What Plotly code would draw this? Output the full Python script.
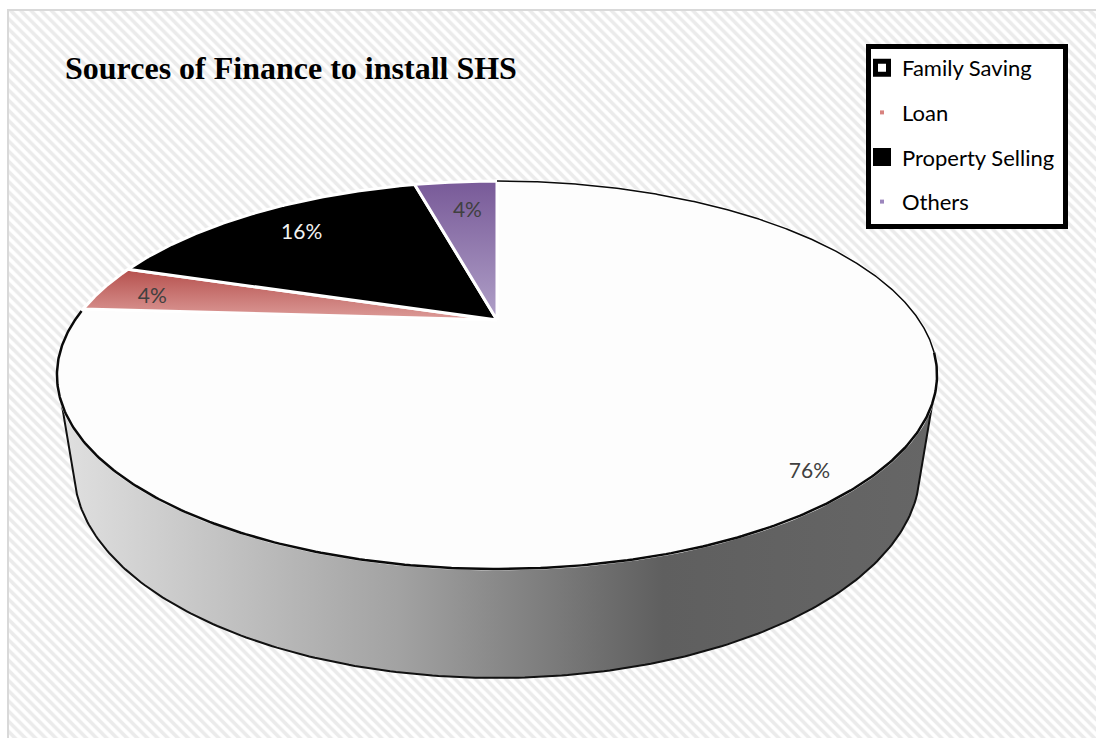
import numpy as np
import plotly.graph_objects as go

title = "Sources of Finance to install SHS"
categories = ["Family Saving", "Loan", "Property Selling", "Others"]
shares = [76, 4, 16, 4]
top_colors = [None, "#b5504d", "#000000", "#785a98"]
bottom_colors = [None, "#dd9c99", "#000000", "#b0a0c8"]
label_colors = ["#404040", "#404040", "#f2f2f2", "#404040"]
label_radius = [0.90, 0.87, 0.80, 0.80]
label_shift_x = [-7, 0, 3, 5]
label_shift_y = [9, 6, 3, 7]

# Camera model of the tilted disc: hub position, scale and perspective strength
HUB_X, HUB_Y = 497.0, 320.0
SCALE_X, SCALE_Y = 422.0, 178.4
PERSPECTIVE = 0.2835
FONT = "Lato, Carlito, sans-serif"


def project(theta, r=1.0):
    """Map clockwise-from-north disc coordinates to the page."""
    gx, gy = r * np.sin(theta), r * np.cos(theta)
    den = 1 + PERSPECTIVE * gy
    return HUB_X + SCALE_X * gx / den, HUB_Y - SCALE_Y * gy / den


def closed(x, y):
    return list(x) + [x[0]], list(y) + [y[0]]


fig = go.Figure()

# Hatched chart area; its right and bottom edges run off the page
fig.add_trace(go.Bar(
    x=[558], y=[740], base=[10], width=[1100], showlegend=False, hoverinfo="skip",
    marker=dict(color="#ffffff", line=dict(color="#d9d9d9", width=2),
                pattern=dict(shape="\\", size=7.2, solidity=0.5,
                             fgcolor="#d8d8d8", bgcolor="#ffffff")),
))

# Side wall of the cylinder, between the front of the rim and the lower ellipse
rim_t = np.linspace(np.radians(114.3), np.radians(245.7), 200)
rim_x, rim_y = project(rim_t)
low_t = np.linspace(np.radians(173.2), np.radians(6.8), 200)
low_x = 497 + 423 * np.cos(low_t)
low_y = 470 + 208 * np.sin(low_t)
wall_x = np.concatenate([rim_x, low_x, rim_x[:1]])
wall_y = np.concatenate([rim_y, low_y, rim_y[:1]])
fig.add_trace(go.Scatter(
    x=wall_x, y=wall_y, mode="lines", fill="toself", showlegend=False, hoverinfo="skip",
    line=dict(color="#111111", width=2),
    fillgradient=dict(type="horizontal", colorscale=[
        [0, "#e0e0e0"], [0.388, "#a2a2a2"], [0.69, "#5f5f5f"], [1, "#666666"]]),
))

# Slices of the top face, clockwise from north
edges = np.cumsum([0] + shares) / sum(shares) * 2 * np.pi
for i, name in enumerate(categories):
    t = np.linspace(edges[i], edges[i + 1], 240)
    x, y = project(t)
    px, py = closed([HUB_X] + list(x), [HUB_Y] + list(y))
    if top_colors[i] is None:
        style = dict(fillcolor="#fdfdfd")
    else:
        # The y axis runs downward, so the scale starts at the slice's upper edge
        style = dict(fillgradient=dict(type="vertical", colorscale=[
            [0, bottom_colors[i]], [1, top_colors[i]]]))
    fig.add_trace(go.Scatter(x=px, y=py, mode="lines", fill="toself", showlegend=False,
                             hoverinfo="skip", line=dict(color="#ffffff", width=3), **style))

# Black outline along the large slice's rim, heavier on the near side
for start, stop, width in [(edges[0], np.radians(100), 1.5),
                           (np.radians(100), edges[1] - 0.012, 2.5)]:
    t = np.linspace(start, stop, 300)
    x, y = project(t)
    fig.add_trace(go.Scatter(x=x, y=y, mode="lines", showlegend=False, hoverinfo="skip",
                             line=dict(color="#0a0a0a", width=width)))

# Percentage labels at each slice's middle angle
mids = (edges[:-1] + edges[1:]) / 2
lx, ly = zip(*[project(m, r) for m, r in zip(mids, label_radius)])
fig.add_trace(go.Scatter(
    x=np.array(lx) + label_shift_x, y=np.array(ly) + label_shift_y,
    mode="text", text=[f"{v}%" for v in shares], showlegend=False, hoverinfo="skip",
    textfont=dict(family=FONT, size=21, color=label_colors),
))

# Legend entries
legend_markers = [
    dict(symbol="square", size=13, color="#ffffff", line=dict(color="#000000", width=5)),
    dict(symbol="square", size=4, color="#d8827f"),
    dict(symbol="square", size=16, color="#000000", line=dict(color="#000000", width=2)),
    dict(symbol="square", size=4, color="#9c86bd"),
]
for name, marker in zip(categories, legend_markers):
    fig.add_trace(go.Scatter(x=[None], y=[None], mode="markers", name=name, marker=marker,
                             legendgroup=name))

fig.update_layout(
    width=1096, height=738, autosize=False,
    margin=dict(l=0, r=0, t=0, b=0),
    paper_bgcolor="#ffffff", plot_bgcolor="#ffffff",
    xaxis=dict(range=[0, 1096], visible=False, fixedrange=True),
    yaxis=dict(range=[738, 0], visible=False, fixedrange=True),
    title=dict(text=f"<b>{title}</b>", x=65 / 1096, xanchor="left", y=1 - 68 / 738, yanchor="middle",
               font=dict(family="Liberation Serif", size=32, color="#000000")),
    # The legend box is a shape so the entries can sit closer to its left edge
    shapes=[dict(type="rect", xref="x", yref="y", x0=868.5, x1=1065.5, y0=46.5, y1=226.5,
                 fillcolor="#ffffff", line=dict(color="#000000", width=5))],
    legend=dict(x=862 / 1096, y=1 - 47 / 738, xanchor="left", yanchor="top",
                bgcolor="rgba(0,0,0,0)", borderwidth=0,
                font=dict(family=FONT, size=22, color="#000000"),
                tracegroupgap=13, itemsizing="trace", itemwidth=30),
    showlegend=True,
)

fig.write_html("out.html", config=dict(displayModeBar=False))
